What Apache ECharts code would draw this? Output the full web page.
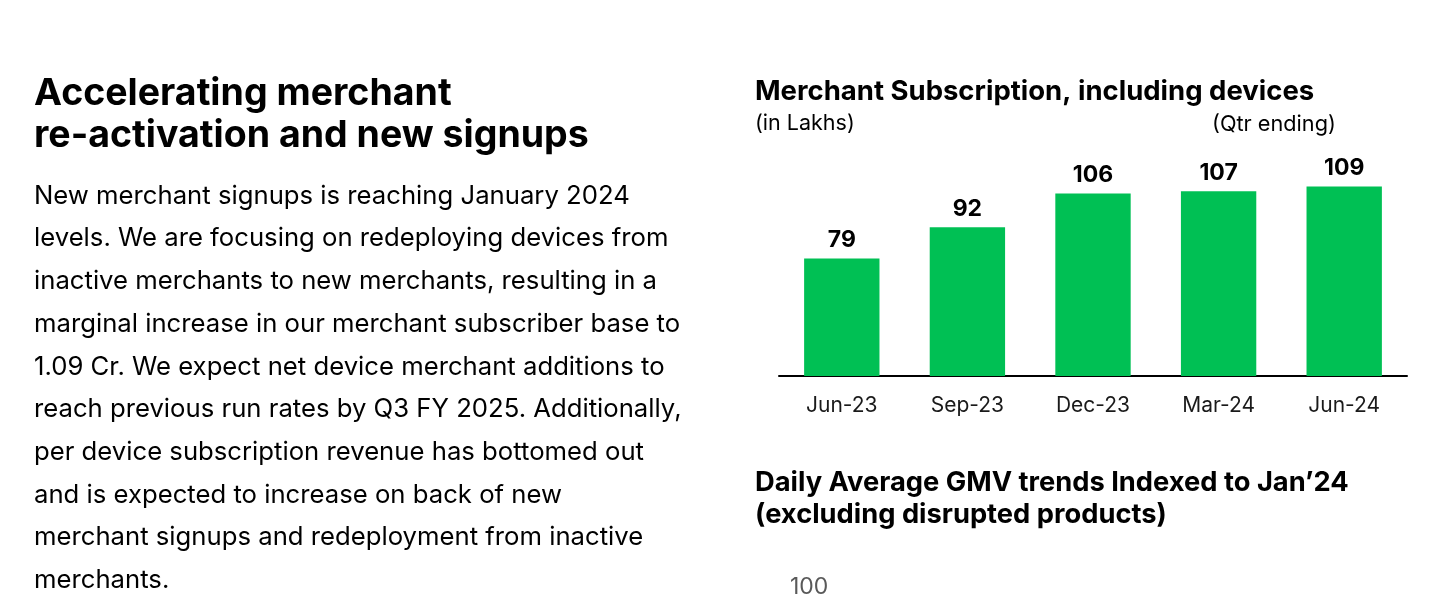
<!DOCTYPE html>
<html>
<head>
<meta charset="utf-8">
<script src="https://cdn.jsdelivr.net/npm/echarts@6/dist/echarts.min.js"></script>
<style>
html,body{margin:0;padding:0;background:#fff;}
#c{width:1442px;height:601px;}
</style>
</head>
<body>
<div id="c"></div>
<script>
const categories = ['Jun-23', 'Sep-23', 'Dec-23', 'Mar-24', 'Jun-24'];
const subscribers = [79, 92, 106, 107, 109];

const leftTitle = ['Accelerating merchant', 're-activation and new signups'];
const paragraph = [
  'New merchant signups is reaching January 2024',
  'levels. We are focusing on redeploying devices from',
  'inactive merchants to new merchants, resulting in a',
  'marginal increase in our merchant subscriber base to',
  '1.09 Cr. We expect net device merchant additions to',
  'reach previous run rates by Q3 FY 2025. Additionally,',
  'per device subscription revenue has bottomed out',
  'and is expected to increase on back of new',
  'merchant signups and redeployment from inactive',
  'merchants.'
];
const chartTitle = 'Merchant Subscription, including devices';
const unitNote = '(in Lakhs)';
const periodNote = '(Qtr ending)';
const gmvTitle = ['Daily Average GMV trends Indexed to Jan\u201924', '(excluding disrupted products)'];
const gmvTick = '100';

const FONT = 'Inter, "Noto Sans", sans-serif';
const chart = echarts.init(document.getElementById('c'));

function txt(x, y, text, font, fill) {
  return { type: 'text', x: x, y: y + 2, style: { text: text, font: font, fill: fill || '#000', textVerticalAlign: 'middle', verticalAlign: 'middle' } };
}

const graphics = [];
leftTitle.forEach((t, i) => graphics.push(txt(34, 92 + i * 41.5, t, 'bold 37.5px ' + FONT)));
paragraph.forEach((t, i) => graphics.push(txt(34, 194 + i * 42.7, t, '25.7px ' + FONT)));
graphics.push(txt(755, 90, chartTitle, 'bold 27.5px ' + FONT));
graphics.push(txt(755, 122, unitNote, '21.5px ' + FONT));
graphics.push(txt(1212, 122, periodNote, '21.7px ' + FONT));
gmvTitle.forEach((t, i) => graphics.push(txt(755, 481 + i * 32, t, 'bold 27.3px ' + FONT)));
graphics.push(txt(790, 585, gmvTick, '23px ' + FONT, '#595959'));

chart.setOption({
  animation: false,
  backgroundColor: '#fff',
  grid: { left: 779, right: 1442 - 1407, top: 160, bottom: 601 - 376, containLabel: false },
  xAxis: {
    type: 'category', data: categories,
    axisLine: { lineStyle: { color: '#000', width: 2 } },
    axisTick: { show: false },
    axisLabel: { color: '#1a1a1a', fontSize: 21, fontFamily: FONT, margin: 19 }
  },
  yAxis: {
    type: 'value', min: 30, max: 120,
    show: false, splitLine: { show: false }
  },
  series: [{
    type: 'bar', data: subscribers, barWidth: '60%',
    itemStyle: { color: '#00c054' },
    label: { show: true, position: 'top', distance: 7, color: '#000', fontSize: 23, fontWeight: 'bold', fontFamily: FONT }
  }],
  graphic: graphics
});
</script>
</body>
</html>
